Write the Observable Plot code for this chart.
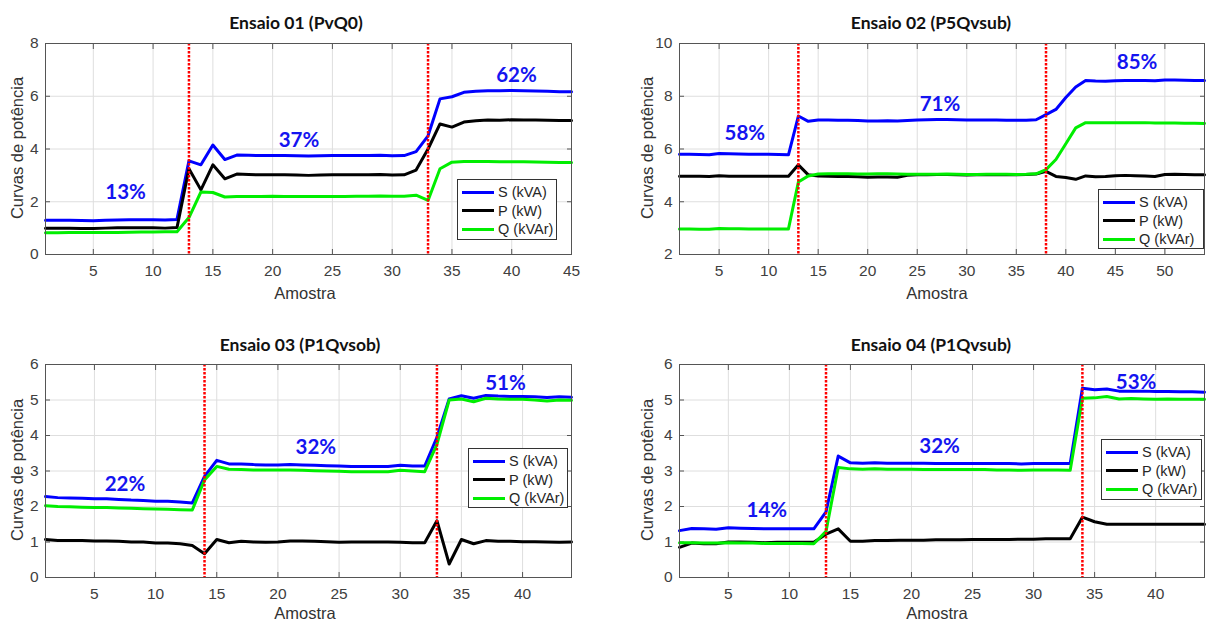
<!DOCTYPE html>
<html>
<head>
<meta charset="utf-8">
<script src="https://cdn.jsdelivr.net/npm/d3@7"></script>
<script src="https://cdn.jsdelivr.net/npm/@observablehq/plot@0.6"></script>
<style>
  html, body { margin: 0; padding: 0; background: #fff; }
  #root { position: relative; width: 1206px; height: 623px; overflow: hidden; background: #fff; }
  .panel { position: absolute; }
  .title { position: absolute; font-family: Lato, "Open Sans", sans-serif; font-weight: bold; font-size: 17.5px; color: #111; transform: translate(-50%, -50%); white-space: nowrap; }
  .xlab { position: absolute; font-family: "Liberation Sans", Arial, sans-serif; font-size: 16.5px; color: #333; transform: translate(-50%, -50%); white-space: nowrap; }
  .ylab { position: absolute; font-family: "Liberation Sans", Arial, sans-serif; font-size: 16.5px; color: #333; transform: translate(-50%, -50%) rotate(-90deg); white-space: nowrap; }
  .legend { position: absolute; background: #fff; border: 1px solid #333; box-sizing: border-box; padding-top: 3px; }
  .legend .row { display: flex; align-items: center; height: 18.5px; font-family: "Liberation Sans", Arial, sans-serif; font-size: 14.5px; color: #262626; white-space: nowrap; }
  .legend .sw { width: 32px; height: 3px; margin-left: 4px; margin-right: 4px; }
</style>
</head>
<body>
<div id="root"></div>
<script>
// ---------------- DATA ----------------
const seriesNames = ["S (kVA)", "P (kW)", "Q (kVAr)"];
const seriesColors = ["#0000ff", "#000000", "#00ee00"];

// Ensaio 01 (PvQ0)
const title1 = "Ensaio 01 (PvQ0)";
const S1 = [1.30,1.30,1.30,1.29,1.28,1.30,1.31,1.32,1.32,1.32,1.31,1.33,3.55,3.40,4.15,3.60,3.77,3.76,3.75,3.75,3.75,3.74,3.73,3.74,3.75,3.75,3.75,3.75,3.76,3.74,3.75,3.90,4.50,5.90,5.98,6.15,6.19,6.21,6.21,6.22,6.21,6.20,6.19,6.17,6.17];
const P1 = [1.00,1.00,1.00,0.99,0.99,1.00,1.01,1.01,1.01,1.01,1.00,1.02,3.25,2.45,3.40,2.87,3.05,3.03,3.02,3.02,3.02,3.01,3.00,3.01,3.02,3.02,3.02,3.02,3.03,3.01,3.02,3.20,4.00,4.95,4.83,5.02,5.07,5.10,5.09,5.11,5.10,5.10,5.09,5.08,5.08];
const Q1 = [0.82,0.82,0.83,0.83,0.83,0.83,0.83,0.84,0.85,0.85,0.86,0.86,1.40,2.37,2.35,2.18,2.20,2.20,2.20,2.21,2.20,2.20,2.20,2.20,2.20,2.20,2.21,2.21,2.22,2.21,2.21,2.25,2.05,3.25,3.50,3.53,3.53,3.53,3.52,3.52,3.52,3.51,3.50,3.49,3.49];
const yDomain1 = [0, 8];
const yTicks1 = [0, 2, 4, 6, 8];
const xTicks1 = [5, 10, 15, 20, 25, 30, 35, 40, 45];
const events1 = [13, 33];
const notes1 = [{x: 7.7, y: 2.35, label: "13%"}, {x: 22.2, y: 4.33, label: "37%"}, {x: 40.4, y: 6.8, label: "62%"}];

// Ensaio 02 (P5Qvsub)
const title2 = "Ensaio 02 (P5Qvsub)";
const S2 = [5.80,5.80,5.79,5.78,5.83,5.82,5.81,5.80,5.80,5.80,5.79,5.78,7.25,7.05,7.10,7.10,7.09,7.09,7.08,7.06,7.06,7.07,7.06,7.08,7.10,7.11,7.12,7.12,7.11,7.10,7.10,7.10,7.10,7.09,7.09,7.09,7.11,7.30,7.50,7.95,8.35,8.60,8.58,8.57,8.59,8.60,8.60,8.60,8.59,8.62,8.62,8.61,8.60,8.60];
const P2 = [4.97,4.97,4.97,4.96,4.99,4.97,4.97,4.97,4.97,4.97,4.97,4.97,5.40,5.02,4.98,4.97,4.96,4.96,4.95,4.93,4.94,4.94,4.93,5.00,5.02,5.02,5.03,5.03,5.02,5.01,5.02,5.02,5.02,5.02,5.02,5.03,5.05,5.15,4.96,4.92,4.85,4.98,4.95,4.96,4.99,5.00,4.99,4.98,4.96,5.03,5.04,5.03,5.02,5.02];
const Q2 = [2.97,2.97,2.96,2.96,2.99,2.98,2.98,2.97,2.97,2.97,2.97,2.97,4.75,4.98,5.05,5.06,5.06,5.06,5.05,5.05,5.06,5.06,5.05,5.04,5.04,5.04,5.04,5.05,5.04,5.03,5.03,5.04,5.04,5.04,5.03,5.04,5.06,5.22,5.60,6.20,6.80,7.00,7.00,7.00,7.00,7.00,7.00,7.00,6.99,6.99,6.99,6.98,6.98,6.97];
const yDomain2 = [2, 10];
const yTicks2 = [2, 4, 6, 8, 10];
const xTicks2 = [5, 10, 15, 20, 25, 30, 35, 40, 45, 50];
const events2 = [13, 38];
const notes2 = [{x: 7.6, y: 6.6, label: "58%"}, {x: 27.3, y: 7.7, label: "71%"}, {x: 47.2, y: 9.27, label: "85%"}];

// Ensaio 03 (P1Qvsob)
const title3 = "Ensaio 03 (P1Qvsob)";
const S3 = [2.28,2.25,2.24,2.23,2.22,2.22,2.20,2.18,2.17,2.15,2.15,2.13,2.10,2.85,3.30,3.20,3.20,3.18,3.17,3.17,3.18,3.17,3.16,3.15,3.14,3.13,3.13,3.13,3.13,3.16,3.14,3.14,3.95,5.03,5.12,5.05,5.13,5.11,5.10,5.10,5.09,5.07,5.09,5.08];
const P3 = [1.07,1.04,1.04,1.04,1.03,1.03,1.02,1.00,1.00,0.97,0.97,0.95,0.90,0.67,1.07,0.98,1.02,1.00,0.99,1.00,1.03,1.03,1.02,1.01,0.99,1.00,1.00,1.00,1.00,0.99,0.98,0.98,1.60,0.38,1.07,0.95,1.04,1.02,1.02,1.01,1.01,1.00,0.99,1.00];
const Q3 = [2.02,2.00,1.99,1.98,1.97,1.97,1.96,1.95,1.94,1.93,1.92,1.91,1.90,2.75,3.13,3.05,3.04,3.03,3.03,3.03,3.03,3.02,3.01,3.00,2.99,2.98,2.98,2.98,2.98,3.02,3.00,2.98,3.75,5.00,5.03,4.95,5.05,5.03,5.02,5.02,5.00,4.97,5.00,4.99];
const yDomain3 = [0, 6];
const yTicks3 = [0, 1, 2, 3, 4, 5, 6];
const xTicks3 = [5, 10, 15, 20, 25, 30, 35, 40];
const events3 = [14, 33];
const notes3 = [{x: 7.5, y: 2.62, label: "22%"}, {x: 23.1, y: 3.65, label: "32%"}, {x: 38.6, y: 5.47, label: "51%"}];

// Ensaio 04 (P1Qvsub)
const title4 = "Ensaio 04 (P1Qvsub)";
const S4 = [1.32,1.38,1.37,1.36,1.40,1.39,1.38,1.37,1.37,1.37,1.37,1.37,1.85,3.42,3.23,3.22,3.23,3.22,3.22,3.22,3.22,3.21,3.21,3.21,3.21,3.21,3.21,3.21,3.20,3.21,3.21,3.21,3.21,5.33,5.29,5.31,5.25,5.25,5.25,5.24,5.24,5.23,5.23,5.22];
const P4 = [0.85,0.97,0.95,0.95,1.00,1.00,0.99,0.98,0.99,0.99,0.99,0.99,1.22,1.37,1.02,1.02,1.04,1.04,1.05,1.05,1.05,1.06,1.06,1.06,1.07,1.07,1.07,1.07,1.08,1.08,1.09,1.09,1.09,1.70,1.57,1.50,1.50,1.50,1.50,1.50,1.50,1.50,1.50,1.50];
const Q4 = [0.98,0.98,0.97,0.97,0.98,0.97,0.97,0.96,0.96,0.96,0.96,0.95,1.30,3.10,3.06,3.05,3.06,3.05,3.05,3.05,3.04,3.04,3.04,3.04,3.04,3.04,3.03,3.03,3.02,3.03,3.03,3.03,3.02,5.05,5.06,5.10,5.03,5.04,5.03,5.02,5.03,5.02,5.02,5.02];
const yDomain4 = [0, 6];
const yTicks4 = [0, 1, 2, 3, 4, 5, 6];
const xTicks4 = [5, 10, 15, 20, 25, 30, 35, 40];
const events4 = [13, 34];
const notes4 = [{x: 8.15, y: 1.88, label: "14%"}, {x: 22.3, y: 3.7, label: "32%"}, {x: 38.4, y: 5.5, label: "53%"}];

const xLabel = "Amostra";
const yLabel = "Curvas de potência";

// ---------------- LAYOUT ----------------
const panels = [
  {title: title1, S: S1, P: P1, Q: Q1, yDomain: yDomain1, yTicks: yTicks1, xTicks: xTicks1, events: events1, notes: notes1,
   box: {left: 0, top: 30, w: 600, h: 280, ml: 45, mr: 29, mt: 13, mb: 56},
   titlePos: [296, 22], xlabPos: [305, 293], ylabPos: [17, 148], legend: {left: 457, top: 179, w: 100, h: 61}},
  {title: title2, S: S2, P: P2, Q: Q2, yDomain: yDomain2, yTicks: yTicks2, xTicks: xTicks2, events: events2, notes: notes2,
   box: {left: 600, top: 30, w: 606, h: 280, ml: 79, mr: 2, mt: 13, mb: 56},
   titlePos: [931, 22], xlabPos: [937, 293], ylabPos: [647, 148], legend: {left: 1098, top: 189, w: 106, h: 60}},
  {title: title3, S: S3, P: P3, Q: Q3, yDomain: yDomain3, yTicks: yTicks3, xTicks: xTicks3, events: events3, notes: notes3,
   box: {left: 0, top: 350, w: 600, h: 273, ml: 45, mr: 29, mt: 14, mb: 46},
   titlePos: [300, 344], xlabPos: [305, 613], ylabPos: [17, 470], legend: {left: 468, top: 448, w: 100, h: 60}},
  {title: title4, S: S4, P: P4, Q: Q4, yDomain: yDomain4, yTicks: yTicks4, xTicks: xTicks4, events: events4, notes: notes4,
   box: {left: 600, top: 350, w: 606, h: 273, ml: 79, mr: 2, mt: 14, mb: 46},
   titlePos: [931, 344], xlabPos: [937, 613], ylabPos: [647, 470], legend: {left: 1101, top: 439, w: 101, h: 61}}
];

const root = document.getElementById("root");
const font = "'Liberation Sans', Arial, sans-serif";

for (const p of panels) {
  const n = p.S.length;
  const rows = [];
  [p.S, p.P, p.Q].forEach((arr, k) => arr.forEach((v, i) => rows.push({x: i + 1, y: v, serie: seriesNames[k]})));
  const b = p.box;
  const empty = () => "";
  const chart = Plot.plot({
    width: b.w, height: b.h,
    marginLeft: b.ml, marginRight: b.mr, marginTop: b.mt, marginBottom: b.mb,
    style: {fontFamily: font, fontSize: "15.5px", color: "#404040", background: "transparent", overflow: "visible"},
    x: {domain: [1, n], label: null},
    y: {domain: p.yDomain, label: null},
    marks: [
      Plot.gridX(p.xTicks, {stroke: "#dedede", strokeOpacity: 1}),
      Plot.gridY(p.yTicks, {stroke: "#dedede", strokeOpacity: 1}),
      Plot.axisX(p.xTicks, {anchor: "bottom", tickSize: 0, tickPadding: 10, fontSize: 15.5, fill: "#404040"}),
      Plot.axisY(p.yTicks, {anchor: "left", tickSize: 0, tickPadding: 7, fontSize: 15.5, fill: "#404040"}),
      Plot.axisX(p.xTicks, {anchor: "bottom", tickSize: -5, tickPadding: 0, tickFormat: empty, stroke: "#555"}),
      Plot.axisX(p.xTicks, {anchor: "top", tickSize: -5, tickPadding: 0, tickFormat: empty, stroke: "#555"}),
      Plot.axisY(p.yTicks, {anchor: "left", tickSize: -5, tickPadding: 0, tickFormat: empty, stroke: "#555"}),
      Plot.axisY(p.yTicks, {anchor: "right", tickSize: -5, tickPadding: 0, tickFormat: empty, stroke: "#555"}),
      ...seriesNames.map((s, k) => Plot.line(rows.filter(d => d.serie === s), {x: "x", y: "y", stroke: seriesColors[k], strokeWidth: 3})),
      Plot.ruleX(p.events, {stroke: "#ff0000", strokeWidth: 2.5, strokeDasharray: "2.5,1.5"}),
      Plot.text(p.notes, {x: "x", y: "y", text: "label", fill: "#1414f0", fontWeight: "bold", fontSize: 20.5, fontFamily: "Lato, 'Open Sans', sans-serif"}),
      Plot.frame({stroke: "#555", strokeWidth: 1})
    ]
  });
  const div = document.createElement("div");
  div.className = "panel";
  div.style.left = b.left + "px";
  div.style.top = b.top + "px";
  div.appendChild(chart);
  root.appendChild(div);

  const t = document.createElement("div");
  t.className = "title"; t.textContent = p.title;
  t.style.left = p.titlePos[0] + "px"; t.style.top = p.titlePos[1] + "px";
  root.appendChild(t);

  const xl = document.createElement("div");
  xl.className = "xlab"; xl.textContent = xLabel;
  xl.style.left = p.xlabPos[0] + "px"; xl.style.top = p.xlabPos[1] + "px";
  root.appendChild(xl);

  const yl = document.createElement("div");
  yl.className = "ylab"; yl.textContent = yLabel;
  yl.style.left = p.ylabPos[0] + "px"; yl.style.top = p.ylabPos[1] + "px";
  root.appendChild(yl);

  const lg = document.createElement("div");
  lg.className = "legend";
  lg.style.left = p.legend.left + "px"; lg.style.top = p.legend.top + "px";
  lg.style.width = p.legend.w + "px"; lg.style.height = p.legend.h + "px";
  seriesNames.forEach((s, k) => {
    const r = document.createElement("div");
    r.className = "row";
    const sw = document.createElement("span");
    sw.className = "sw"; sw.style.background = seriesColors[k];
    const tx = document.createElement("span");
    tx.textContent = s;
    r.appendChild(sw); r.appendChild(tx);
    lg.appendChild(r);
  });
  root.appendChild(lg);
}
</script>
</body>
</html>
